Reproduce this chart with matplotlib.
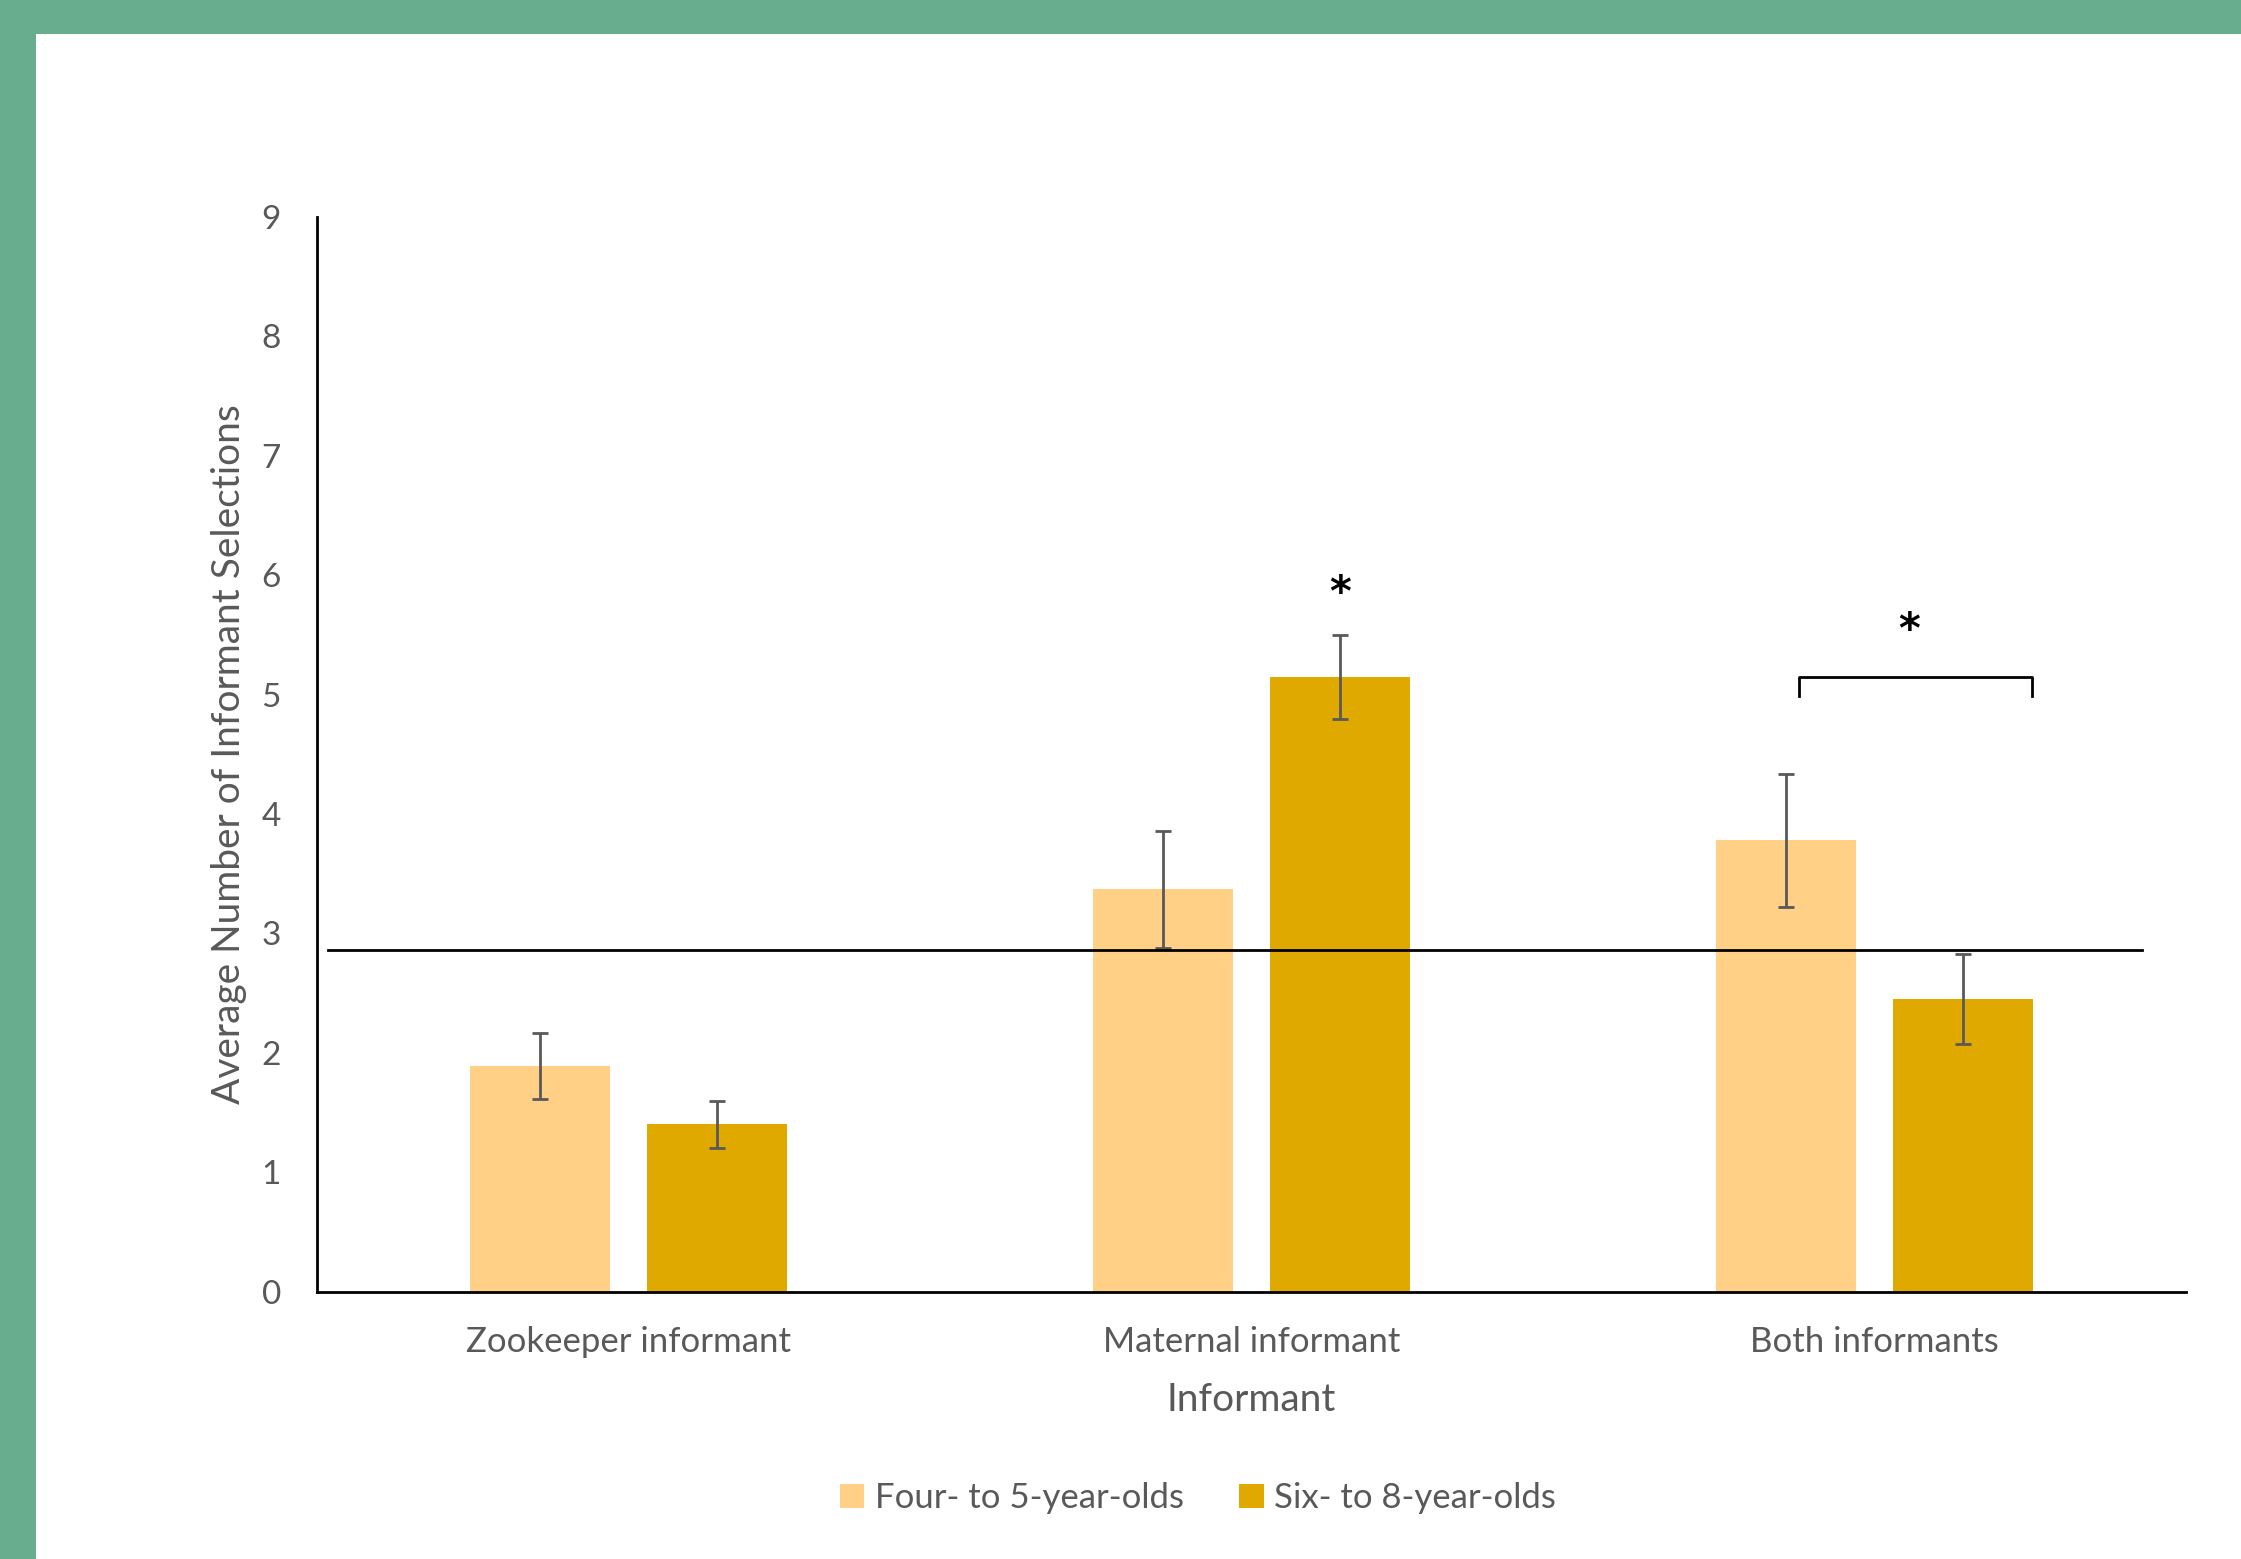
import matplotlib
matplotlib.use("Agg")
from matplotlib import pyplot as plt
from matplotlib.patches import Rectangle, Patch
import numpy as np

categories = ["Zookeeper informant", "Maternal informant", "Both informants"]
series_names = ["Four- to 5-year-olds", "Six- to 8-year-olds"]
young = [1.89, 3.37, 3.78]
young_err = [0.28, 0.49, 0.555]
old = [1.40, 5.15, 2.45]
old_err = [0.20, 0.35, 0.38]
chance_level = 2.86
y_ticks = [0, 1, 2, 3, 4, 5, 6, 7, 8, 9]

light = "#FFD086"
dark = "#E0A900"
grey = "#595959"
green = "#69AD8F"

plt.rcParams['font.family'] = ['Lato', 'DejaVu Sans']


def make():
    fig = plt.figure(figsize=(22.41, 15.59), dpi=100, facecolor=green)
    # white card over the green frame
    fig.patches.append(Rectangle((36 / 2241, 0), 1, 1 - 34 / 1559, transform=fig.transFigure,
                                 facecolor='white', edgecolor='none', zorder=-10))
    ax = fig.add_axes([0.1415, 0.1715, 0.834, 0.6893])
    ax.set_facecolor('none')

    x = np.arange(len(categories))
    w = 0.225
    off = 0.142
    err_kw = dict(ecolor=grey, elinewidth=2, capsize=6, capthick=2)
    ax.bar(x - off, young, w, color=light, yerr=young_err, error_kw=err_kw, zorder=2)
    ax.bar(x + off, old, w, color=dark, yerr=old_err, error_kw=err_kw, zorder=2)

    # chance line
    ax.plot([-0.482, 2.429], [chance_level, chance_level], color='black', lw=2, zorder=3)

    # significance marks
    ax.text(x[1] + off, 5.84, "*", ha='center', va='center', fontsize=30, fontweight='bold',
            family='DejaVu Sans')
    ax.plot([1.879, 1.879, 2.252, 2.252], [4.99, 5.15, 5.15, 4.99], color='black', lw=2,
            solid_joinstyle='round')
    ax.text(2.056, 5.53, "*", ha='center', va='center', fontsize=30, fontweight='bold',
            family='DejaVu Sans')

    ax.set_xlim(-0.5, 2.5)
    ax.set_ylim(0, 9)
    ax.set_yticks(y_ticks)
    ax.set_xticks(x)
    ax.set_xticklabels(categories)
    ax.tick_params(length=0, labelsize=24, colors=grey)
    ax.tick_params(axis='x', pad=25, labelsize=25)
    ax.tick_params(axis='y', pad=26)
    for s in ['top', 'right']:
        ax.spines[s].set_visible(False)
    for s in ['left', 'bottom']:
        ax.spines[s].set_linewidth(2)
        ax.spines[s].set_color('black')

    ax.set_xlabel("Informant", fontsize=28, color=grey)
    ax.xaxis.set_label_coords(0.5, -0.1008)
    ax.xaxis.label.set_va('center')
    ax.set_ylabel("Average Number of Informant Selections", fontsize=28, color=grey)
    ax.yaxis.set_label_coords(-0.0471, 0.5)
    ax.yaxis.label.set_va('center')

    handles = [Patch(facecolor=light), Patch(facecolor=dark)]
    fig.legend(handles, series_names, loc='center', bbox_to_anchor=(0.5346, 0.0391), ncol=2,
               frameon=False, fontsize=25, labelcolor=grey, handlelength=0.7, handleheight=0.7,
               handletextpad=0.3, columnspacing=1.6)

    plt.savefig("out.png", dpi=100, facecolor=fig.get_facecolor())
    plt.close()
    return None


make()
